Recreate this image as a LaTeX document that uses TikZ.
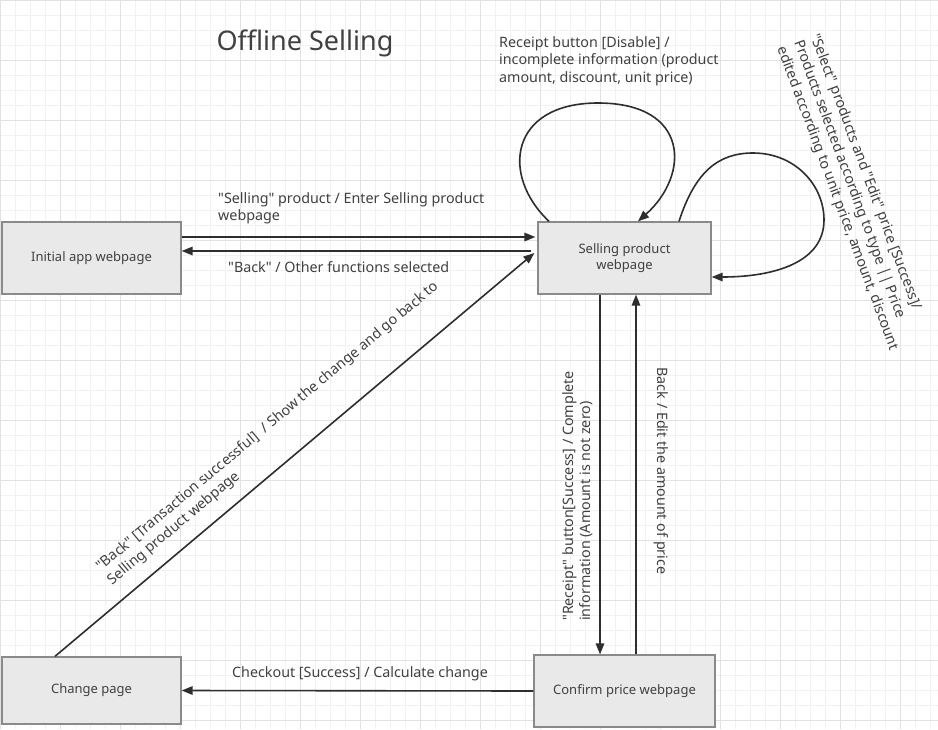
\documentclass[tikz,border=0pt]{standalone}
\usepackage{fontspec}
\setmainfont{Noto Sans}[Ligatures=TeXOff]
\usetikzlibrary{arrows.meta}
\definecolor{gridminor}{HTML}{F1F1F1}
\definecolor{gridmajor}{HTML}{E2E2E2}
\definecolor{boxfill}{HTML}{E9E9E9}
\definecolor{boxdraw}{HTML}{8A8A8A}
\definecolor{txt}{HTML}{404040}
\definecolor{ln}{HTML}{2E2E2E}
\begin{document}
\begin{tikzpicture}[x=1pt,y=-1pt,
  state/.style={rectangle,draw=boxdraw,fill=boxfill,line width=1.3pt,text=txt,
    font=\fontsize{13}{16}\selectfont,align=center,inner sep=2pt},
  flow/.style={draw=ln,line width=1.6pt,-{Triangle[length=11pt,width=8.5pt]}},
  lbl/.style={text=txt,font=\fontsize{14.3}{17.8}\selectfont,inner sep=0pt}]
\fill[white] (0,0) rectangle (938,729);
\useasboundingbox (0,0) rectangle (938,729);
% grid
\foreach \x in {0,15,...,930} \draw[gridminor,line width=0.8pt] (\x,0) -- (\x,729);
\foreach \y in {0,15,...,720} \draw[gridminor,line width=0.8pt] (0,\y) -- (938,\y);
\foreach \x in {0,60,...,900} \draw[gridmajor,line width=0.9pt] (\x,0) -- (\x,729);
\foreach \y in {0,60,...,720} \draw[gridmajor,line width=0.9pt] (0,\y) -- (938,\y);
% title
\node[text=txt,font=\fontsize{27}{30}\selectfont] (title) at (305,43) {Offline Selling};
% states
\node[state,minimum width=179pt,minimum height=72pt] (init) at (91.5,258) {Initial app webpage};
\node[state,minimum width=173pt,minimum height=72pt] (sell) at (624.5,258) {Selling product\\webpage};
\node[state,minimum width=179pt,minimum height=67pt] (change) at (91.5,690.5) {Change page};
\node[state,minimum width=181pt,minimum height=72pt] (confirm) at (624.5,691) {Confirm price webpage};
% connectors
\draw[flow] ([yshift=21pt]init.east) -- ([yshift=21pt,xshift=-2pt]sell.west);
\draw[flow] ([yshift=7pt,xshift=-6pt]sell.west) -- ([yshift=7pt]init.east);
\draw[flow] ([xshift=-36.5pt]change.north) -- ([yshift=5pt,xshift=-3pt]sell.west);
\draw[flow] ([xshift=-24.5pt]sell.south) -- ([xshift=-24.5pt]confirm.north);
\draw[flow] ([xshift=11.5pt]confirm.north) -- ([xshift=11.5pt]sell.south);
\draw[flow] (confirm.west) -- (change.east);
\draw[flow] ([xshift=-75.5pt]sell.north) .. controls (500,175) and (510,103) .. (598,103)
   .. controls (690,103) and (690,175) .. ([xshift=13.5pt]sell.north);
\draw[flow] ([xshift=54.5pt]sell.north) .. controls (695,172) and (718,153) .. (753,153)
   .. controls (795,153) and (824,185) .. (824,220)
   .. controls (824,262) and (775,277) .. ([yshift=-19pt]sell.east);
% labels
\node[lbl,anchor=north west,align=left] (l1) at (499,36) {Receipt button [Disable] /\\incomplete information (product\\amount, discount, unit price)};
\node[lbl,anchor=north west,align=left,rotate=-69.5] (l2) at (821,32) {"Select" products and "Edit" price [Success]/\\Products selected according to type || Price\\edited according to unit price, amount, discount};
\node[lbl,anchor=north west,align=left] (l3) at (218,192) {"Selling" product / Enter Selling product\\webpage};
\node[lbl,anchor=west] (l4) at (228,267) {"Back" / Other functions selected};
\node[lbl,anchor=north west,align=left,rotate=40] (l5) at (94,563) {"Back" [Transaction successful]\ \ / Show the change and go back to\\Selling product webpage};
\node[lbl,anchor=north west,align=left,rotate=90] (l6) at (562,621) {"Receipt" button[Success] / Complete\\information (Amount is not zero)};
\node[lbl,rotate=-90] (l7) at (661,471) {Back / Edit the amount of price};
\node[lbl] (l8) at (360,674) {Checkout [Success] / Calculate change};
\end{tikzpicture}
\end{document}
